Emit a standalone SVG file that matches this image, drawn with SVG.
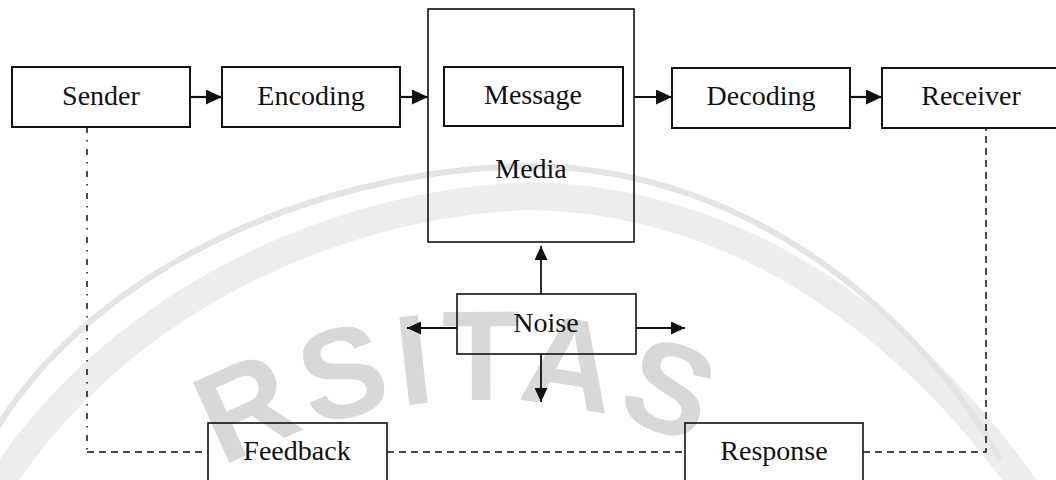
<svg xmlns="http://www.w3.org/2000/svg" width="1056" height="480" viewBox="0 0 1056 480">
  <style>
    .box { fill: none; stroke: #111; stroke-width: 2; }
    .thin { fill: none; stroke: #111; stroke-width: 1.6; }
    .lbl { font-family: "Liberation Serif", "Times New Roman", serif; font-size: 28px; fill: #111; text-anchor: middle; }
    .arrow { stroke: #111; stroke-width: 2.2; fill: none; }
    .narrow { stroke: #111; stroke-width: 1.8; fill: none; }
    .dash { stroke: #111; stroke-width: 1.5; fill: none; stroke-dasharray: 7 5; }
    .dashdot { stroke: #111; stroke-width: 1.5; fill: none; stroke-dasharray: 6 7 1.5 7.5; }
  </style>
  <defs>
    <marker id="ah" markerUnits="userSpaceOnUse" markerWidth="16" markerHeight="15" viewBox="0 0 16 15" refX="16" refY="7.5" orient="auto">
      <path d="M0,0 L16,7.5 L0,15 z" fill="#111"/>
    </marker>
    <marker id="ahs" markerUnits="userSpaceOnUse" markerWidth="14" markerHeight="13" viewBox="0 0 14 13" refX="14" refY="6.5" orient="auto">
      <path d="M0,0 L14,6.5 L0,13 z" fill="#111"/>
    </marker>
    <path id="wmarc" d="M 0 720 A 520 520 0 0 1 960 720"/>
  </defs>
  <rect width="1056" height="480" fill="#ffffff"/>

  <g id="watermark">
    <path d="M -10 500 C 90 330, 300 205, 530 196 C 760 200, 930 350, 1030 495" stroke="#ededed" stroke-width="28" fill="none"/>
    <path d="M -10 440 C 80 280, 300 170, 530 166 C 760 168, 930 330, 1000 460" stroke="#e4e4e4" stroke-width="6" fill="none"/>
    <text font-family="Liberation Sans, Arial, sans-serif" font-weight="bold" font-size="128" fill="#d8d8d8" letter-spacing="6">
      <textPath href="#wmarc" startOffset="342">RSITAS</textPath>
    </text>
  </g>

  <g id="connectors">
    <line class="arrow" x1="190" y1="97" x2="222" y2="97" marker-end="url(#ah)"/>
    <line class="arrow" x1="400" y1="97" x2="428" y2="97" marker-end="url(#ah)"/>
    <line class="arrow" x1="634" y1="97" x2="672" y2="97" marker-end="url(#ah)"/>
    <line class="arrow" x1="850" y1="97" x2="882" y2="97" marker-end="url(#ah)"/>
    <line class="narrow" x1="541" y1="294" x2="541" y2="246" marker-end="url(#ahs)"/>
    <line class="narrow" x1="457" y1="328" x2="407" y2="328" marker-end="url(#ahs)"/>
    <line class="narrow" x1="636" y1="328" x2="685" y2="328" marker-end="url(#ahs)"/>
    <line class="narrow" x1="541" y1="354" x2="541" y2="402" marker-end="url(#ahs)"/>
    <path class="dashdot" d="M87 127 V452"/>
    <path class="dash" d="M87 452 H208"/>
    <path class="dash" d="M387 452 H685"/>
    <path class="dash" d="M863 452 H986 V128"/>
  </g>

  <g id="sender">
    <rect class="box" x="12" y="67" width="178" height="60"/>
    <text class="lbl" x="101" y="105">Sender</text>
  </g>
  <g id="encoding">
    <rect class="box" x="222" y="67" width="178" height="60"/>
    <text class="lbl" x="311" y="105">Encoding</text>
  </g>
  <g id="media">
    <rect class="thin" x="428" y="9" width="206" height="233"/>
    <text class="lbl" x="531" y="178">Media</text>
  </g>
  <g id="message">
    <rect class="box" x="444" y="67" width="179" height="59"/>
    <text class="lbl" x="533" y="104">Message</text>
  </g>
  <g id="decoding">
    <rect class="box" x="672" y="68" width="178" height="60"/>
    <text class="lbl" x="761" y="105">Decoding</text>
  </g>
  <g id="receiver">
    <rect class="box" x="882" y="68" width="178" height="60"/>
    <text class="lbl" x="971" y="105">Receiver</text>
  </g>
  <g id="noise">
    <rect class="thin" x="457" y="294" width="179" height="60"/>
    <text class="lbl" x="546" y="332">Noise</text>
  </g>
  <g id="feedback">
    <rect class="thin" x="208" y="423" width="179" height="70"/>
    <text class="lbl" x="297" y="460">Feedback</text>
  </g>
  <g id="response">
    <rect class="thin" x="685" y="423" width="178" height="70"/>
    <text class="lbl" x="774" y="460">Response</text>
  </g>
</svg>
